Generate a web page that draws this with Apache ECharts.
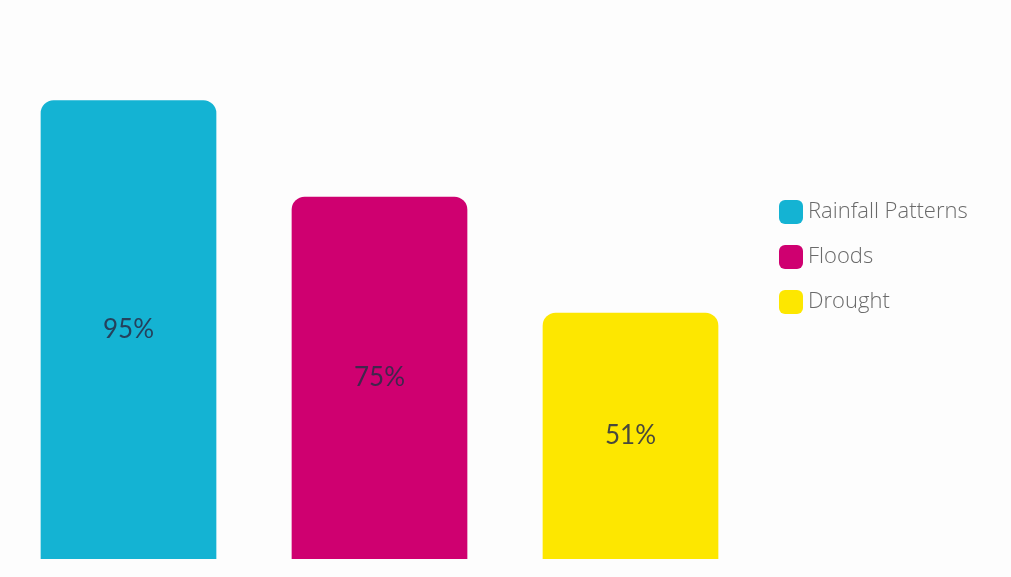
<!DOCTYPE html>
<html><head><meta charset="utf-8">
<script src="https://cdn.jsdelivr.net/npm/echarts@6/dist/echarts.min.js"></script>
<style>html,body{margin:0;padding:0;background:#fdfdfd}#c{width:1011px;height:577px}</style>
</head><body><div id="c"></div>
<script>
const categories = ['Rainfall Patterns', 'Floods', 'Drought'];
const values = [95, 75, 51];
const colors = ['#14b3d3', '#cf0070', '#fde700'];

const series = categories.map((name, i) => ({
  name: name,
  type: 'bar',
  stack: 'all',
  barWidth: '70%',
  data: values.map((v, j) => (j === i ? v : '-')),
  itemStyle: { color: colors[i], borderRadius: [13, 13, 0, 0] },
  label: {
    show: true, position: 'inside', formatter: '{c}%',
    color: 'rgba(40,45,70,0.85)', fontFamily: 'Lato', fontSize: 26
  }
}));

const chart = echarts.init(document.getElementById('c'));
chart.setOption({
  backgroundColor: '#fdfdfd',
  animation: false,
  grid: { left: 3, right: 255, top: 76, bottom: 18, containLabel: false },
  xAxis: { type: 'category', data: categories, show: false },
  yAxis: { type: 'value', min: 0, max: 100, show: false },
  legend: {
    orient: 'vertical', left: 774, top: 195,
    itemWidth: 24, itemHeight: 24, itemGap: 21, icon: 'roundRect',
    textStyle: { color: '#6a6a6a', fontFamily: 'Open Sans', fontSize: 22, fontWeight: 300 },
    data: categories
  },
  series: series
});
</script></body></html>
